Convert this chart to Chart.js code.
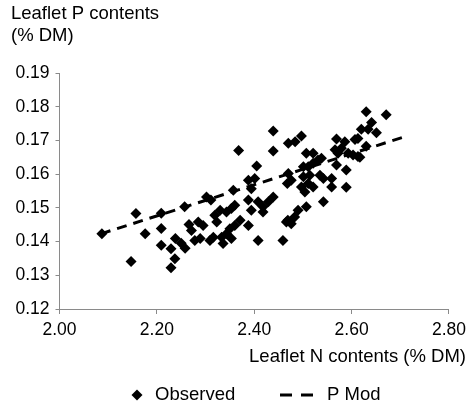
<!DOCTYPE html>
<html>
<head>
<meta charset="utf-8">
<script src="https://cdn.jsdelivr.net/npm/chart.js@4"></script>
<style>
  html, body { margin: 0; padding: 0; background: #fff; }
  #wrap { width: 472px; height: 407px; }
</style>
</head>
<body>
<div id="wrap"><canvas id="chart" width="472" height="407"></canvas></div>
<script>
// observed leaflet N (x) and P (y) contents, % DM
const obsN = [2.087, 2.157, 2.147, 2.176, 2.209, 2.209, 2.209, 2.229, 2.237, 2.229,
  2.238, 2.250, 2.258, 2.257, 2.266, 2.278, 2.271, 2.285, 2.295, 2.289,
  2.302, 2.311, 2.319, 2.323, 2.309, 2.316, 2.330, 2.343, 2.353, 2.360,
  2.333, 2.336, 2.343, 2.350, 2.353, 2.360, 2.371, 2.357, 2.368, 2.388,
  2.394, 2.401, 2.388, 2.394, 2.388, 2.405, 2.408, 2.418, 2.429, 2.439,
  2.408, 2.439, 2.439, 2.459, 2.469, 2.476, 2.483, 2.490, 2.466, 2.470,
  2.476, 2.468, 2.470, 2.484, 2.497, 2.507, 2.507, 2.521, 2.501, 2.511,
  2.521, 2.531, 2.538, 2.497, 2.504, 2.511, 2.521, 2.501, 2.514, 2.535,
  2.542, 2.559, 2.542, 2.559, 2.569, 2.566, 2.572, 2.579, 2.586, 2.569,
  2.589, 2.589, 2.593, 2.603, 2.613, 2.607, 2.617, 2.620, 2.630, 2.630,
  2.641, 2.651, 2.671, 2.613, 2.634, 2.418];
const obsP = [0.1423, 0.1483, 0.1341, 0.1423, 0.1484, 0.1439, 0.1389, 0.1379, 0.1349, 0.1322,
  0.1409, 0.1395, 0.1380, 0.1503, 0.1451, 0.1403, 0.1433, 0.1458, 0.1448, 0.1409,
  0.1532, 0.1523, 0.1478, 0.1458, 0.1403, 0.1413, 0.1493, 0.1488, 0.1498, 0.1508,
  0.1413, 0.1394, 0.1423, 0.1438, 0.1409, 0.1448, 0.1463, 0.1552, 0.1670, 0.1582,
  0.1557, 0.1587, 0.1523, 0.1493, 0.1448, 0.1624, 0.1518, 0.1503, 0.1518, 0.1532,
  0.1403, 0.1728, 0.1669, 0.1403, 0.1463, 0.1453, 0.1473, 0.1493, 0.1458, 0.1602,
  0.1582, 0.1572, 0.1692, 0.1696, 0.1713, 0.1503, 0.1662, 0.1662, 0.1622, 0.1622,
  0.1632, 0.1642, 0.1647, 0.1562, 0.1547, 0.1572, 0.1562, 0.1592, 0.1597, 0.1597,
  0.1587, 0.1587, 0.1518, 0.1562, 0.1704, 0.1672, 0.1662, 0.1677, 0.1696, 0.1627,
  0.1612, 0.1561, 0.1662, 0.1657, 0.1652, 0.1703, 0.1650, 0.1733, 0.1683, 0.1785,
  0.1753, 0.1723, 0.1776, 0.1706, 0.1733, 0.1488];

// P Mod line end points
const modN = [2.085, 2.709];
const modP = [0.1423, 0.1711];

const xTicks = [2.0, 2.2, 2.4, 2.6, 2.8];
const yTicks = [0.12, 0.13, 0.14, 0.15, 0.16, 0.17, 0.18, 0.19];

const FONT = '"Liberation Sans", Arial, sans-serif';
const axisGrey = '#8a8a8a';

// titles and legend drawn as text on the canvas
const textPlugin = {
    id: 'texts',
    afterDraw(chart) {
        const ctx = chart.ctx;
        ctx.save();
        ctx.fillStyle = '#000';
        ctx.font = '18.5px ' + FONT;
        ctx.textBaseline = 'middle';
        ctx.textAlign = 'left';
        ctx.fillText('Leaflet P contents', 11, 14);
        ctx.fillText('(% DM)', 11, 36);

        ctx.textAlign = 'right';
        ctx.fillText('Leaflet N contents (% DM)', 466, 357);

        // legend
        ctx.textAlign = 'left';
        const ly = 395;
        ctx.beginPath();
        ctx.moveTo(137, ly - 5.5);
        ctx.lineTo(142.5, ly);
        ctx.lineTo(137, ly + 5.5);
        ctx.lineTo(131.5, ly);
        ctx.closePath();
        ctx.fill();
        ctx.fillText('Observed', 155, ly);

        ctx.strokeStyle = '#000';
        ctx.lineWidth = 3;
        ctx.beginPath();
        ctx.moveTo(280, ly); ctx.lineTo(292, ly);
        ctx.moveTo(301, ly); ctx.lineTo(313, ly);
        ctx.stroke();
        ctx.fillText('P Mod', 327, ly);
        ctx.restore();
    }
};

const ctx = document.getElementById('chart').getContext('2d');
new Chart(ctx, {
    type: 'scatter',
    data: {
        datasets: [
            {
                label: 'Observed',
                data: obsN.map((n, i) => ({ x: n, y: obsP[i] })),
                pointStyle: 'rectRot',
                pointRadius: 5.5,
                backgroundColor: '#000',
                borderColor: '#000',
                borderWidth: 0,
                order: 1
            },
            {
                label: 'P Mod',
                type: 'line',
                data: modN.map((n, i) => ({ x: n, y: modP[i] })),
                borderColor: '#000',
                borderWidth: 3,
                borderDash: [10, 7],
                pointRadius: 0,
                fill: false,
                order: 2
            }
        ]
    },
    options: {
        responsive: false,
        animation: false,
        layout: { padding: { top: 73, right: 21, left: 0, bottom: 0 } },
        plugins: {
            legend: { display: false },
            tooltip: { enabled: false }
        },
        scales: {
            x: {
                type: 'linear',
                min: 2.0,
                max: 2.8,
                afterBuildTicks: s => { s.ticks = xTicks.map(v => ({ value: v })); },
                afterFit: s => { s.height = 98; },
                grid: { drawOnChartArea: false, color: axisGrey, tickLength: 5 },
                border: { color: axisGrey, width: 1 },
                ticks: {
                    color: '#000',
                    padding: 6,
                    font: { family: FONT, size: 17.5 },
                    callback: v => Number(v).toFixed(2)
                }
            },
            y: {
                type: 'linear',
                min: 0.12,
                max: 0.19,
                afterBuildTicks: s => { s.ticks = yTicks.map(v => ({ value: v })); },
                afterFit: s => { s.width = 59.5; },
                grid: { drawOnChartArea: false, color: axisGrey, tickLength: 4 },
                border: { color: axisGrey, width: 1 },
                ticks: {
                    color: '#000',
                    padding: 6,
                    font: { family: FONT, size: 17.5 },
                    callback: v => Number(v).toFixed(2)
                }
            }
        }
    },
    plugins: [textPlugin]
});
</script>
</body>
</html>
